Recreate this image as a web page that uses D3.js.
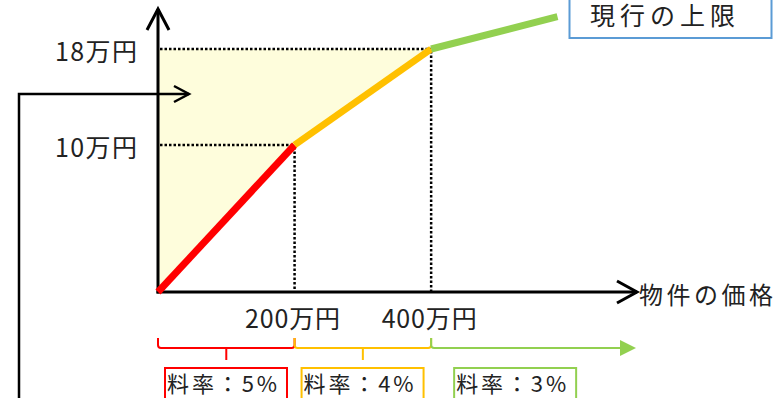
<!DOCTYPE html>
<html>
<head>
<meta charset="utf-8">
<script src="https://cdn.jsdelivr.net/npm/d3@7"></script>
<style>
  body { margin: 0; background: #fff; }
  svg { display: block; font-family: "Noto Sans CJK JP", sans-serif; }
</style>
</head>
<body>
<svg id="chart" width="779" height="398"></svg>
<script>
// price (万円) and fee (万円) at the break points of the curve
var priceX = [0, 200, 400, 585];
var feeY = [0, 10, 18, 20.7];
var segmentColors = ['#FF0000', '#FFC000', '#92D050'];

var xTicks = [200, 400];
var xTickLabels = ['200万円', '400万円'];
var yTicks = [10, 18];
var yTickLabels = ['10万円', '18万円'];

var rangeStart = [0, 200, 400];
var rangeEnd = [200, 400, 700];
var rateLabels = ['料率：5%', '料率：4%', '料率：3%'];

var svg = d3.select('#chart');

var x = d3.scaleLinear().domain([0, 700]).range([158, 636]);
// the drawing is schematic, so y is piecewise
var y = d3.scaleLinear().domain([0, 10, 18]).range([292, 145, 49]);

var ink = '#222';

// shaded area between y axis, upper limit and the curve
svg.append('path')
    .attr('d', d3.line()([
        [x(0), y(0)], [x(0), y(18)], [x(400), y(18)], [x(200), y(10)], [x(0), y(0)]
    ]))
    .attr('fill', '#FEFDDC');

// dotted guides
var guides = svg.append('g')
    .attr('stroke', '#000')
    .attr('stroke-width', 2.5)
    .attr('stroke-dasharray', '2.5,2');

yTicks.forEach(function(v, i) {
    guides.append('line')
        .attr('x1', x(0) + 2).attr('x2', x(xTicks[i]))
        .attr('y1', y(v)).attr('y2', y(v));
    guides.append('line')
        .attr('x1', x(xTicks[i])).attr('x2', x(xTicks[i]))
        .attr('y1', y(v) + 2).attr('y2', y(0));
});

function chevron(g, tx, ty, dir, len, half, w) {
    var pts;
    if (dir === 'up') pts = [[tx - half, ty + len], [tx, ty], [tx + half, ty + len]];
    else pts = [[tx - len, ty - half], [tx, ty], [tx - len, ty + half]];
    g.append('path')
        .attr('d', d3.line()(pts))
        .attr('fill', 'none')
        .attr('stroke', '#000')
        .attr('stroke-width', w);
}

// axes
var axes = svg.append('g');
axes.append('line')
    .attr('x1', x(0)).attr('x2', x(0))
    .attr('y1', y(0) + 1.5).attr('y2', 9)
    .attr('stroke', '#000').attr('stroke-width', 3);
axes.append('line')
    .attr('x1', x(0) - 1.5).attr('x2', 637)
    .attr('y1', y(0)).attr('y2', y(0))
    .attr('stroke', '#000').attr('stroke-width', 3);
chevron(axes, x(0), 9, 'up', 21, 11, 3);
chevron(axes, 637, y(0), 'right', 20, 11, 3);

// fee curve
var pts = priceX.map(function(d, i) { return [x(d), y(feeY[i])]; });
svg.append('g')
    .selectAll('line')
    .data(segmentColors)
    .enter().append('line')
    .attr('x1', function(d, i) { return pts[i][0]; })
    .attr('y1', function(d, i) { return pts[i][1]; })
    .attr('x2', function(d, i) { return pts[i + 1][0]; })
    .attr('y2', function(d, i) { return pts[i + 1][1]; })
    .attr('stroke', function(d) { return d; })
    .attr('stroke-width', 7);

// tick labels
svg.append('g')
    .selectAll('text')
    .data(yTicks)
    .enter().append('text')
    .attr('x', 137)
    .attr('y', function(d) { return y(d) + 3; })
    .attr('dy', '0.35em')
    .attr('text-anchor', 'end')
    .attr('font-size', 25)
    .attr('textLength', 82)
    .attr('fill', ink)
    .text(function(d, i) { return yTickLabels[i]; });

svg.append('g')
    .selectAll('text')
    .data(xTicks)
    .enter().append('text')
    .attr('x', function(d) { return x(d) - 2; })
    .attr('y', 319)
    .attr('dy', '0.35em')
    .attr('text-anchor', 'middle')
    .attr('font-size', 25)
    .attr('textLength', 95)
    .attr('fill', ink)
    .text(function(d, i) { return xTickLabels[i]; });

svg.append('text')
    .attr('x', 639)
    .attr('y', 296)
    .attr('dy', '0.35em')
    .attr('font-size', 24)
    .attr('textLength', 134)
    .attr('fill', ink)
    .text('物件の価格');

// callout box
svg.append('rect')
    .attr('x', 569.5).attr('y', -5)
    .attr('width', 202).attr('height', 43)
    .attr('fill', '#fff')
    .attr('stroke', '#5B9BD5')
    .attr('stroke-width', 2);
svg.append('text')
    .attr('x', 590)
    .attr('y', 16)
    .attr('dy', '0.35em')
    .attr('font-size', 25)
    .attr('textLength', 145)
    .attr('fill', ink)
    .text('現行の上限');

// connector arrow from the left
var conn = svg.append('g');
conn.append('path')
    .attr('d', d3.line()([[19, 400], [19, 94], [189, 94]]))
    .attr('fill', 'none')
    .attr('stroke', '#000')
    .attr('stroke-width', 2.5);
chevron(conn, 189, 94, 'right', 15, 8, 2.5);

// brackets under the x axis
var brackets = svg.append('g')
    .attr('fill', 'none')
    .attr('stroke-width', 2);

rangeStart.forEach(function(s, i) {
    var a = x(s), b = x(rangeEnd[i]), c = segmentColors[i];
    if (i < 2) {
        var m = (a + b) / 2;
        brackets.append('path')
            .attr('d', 'M' + a + ',338 L' + a + ',345 Q' + a + ',348 ' + (a + 3) + ',348 L' + (b - 3) + ',348 Q' + b + ',348 ' + b + ',345 L' + b + ',338' +
                ' M' + m + ',348 L' + m + ',360')
            .attr('stroke', c);
    } else {
        brackets.append('path')
            .attr('d', 'M' + a + ',338 L' + a + ',345 Q' + a + ',348 ' + (a + 3) + ',348 L' + (b - 15) + ',348')
            .attr('stroke', c);
        brackets.append('path')
            .attr('d', 'M' + (b - 16) + ',340 L' + b + ',348 L' + (b - 16) + ',356 Z')
            .attr('fill', c)
            .attr('stroke', 'none');
    }
});

// rate boxes
var boxOffset = [7, 7, 23];
var rates = svg.append('g')
    .selectAll('g')
    .data(rateLabels)
    .enter().append('g')
    .attr('transform', function(d, i) {
        return 'translate(' + (x(rangeStart[i]) + boxOffset[i]) + ',368)';
    });

rates.append('rect')
    .attr('width', 122)
    .attr('height', 34)
    .attr('fill', '#fff')
    .attr('stroke', function(d, i) { return segmentColors[i]; })
    .attr('stroke-width', 2);

rates.append('text')
    .attr('x', 2)
    .attr('y', 16)
    .attr('dy', '0.35em')
    .attr('font-size', 22)
    .attr('textLength', 110)
    .attr('fill', ink)
    .text(function(d) { return d; });
</script>
</body>
</html>
